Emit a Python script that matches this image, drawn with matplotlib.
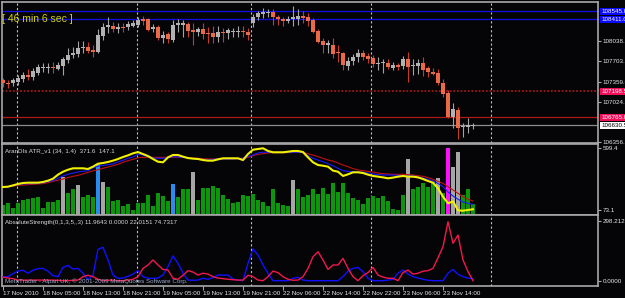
import numpy as np
import matplotlib.pyplot as plt

# eje de tiempo (indice de barra H1 y texto)
date_pos = [0, 8, 16, 24, 32, 40, 48, 56, 64, 72, 80, 88]
date_labels = ['17 Nov 2010', '18 Nov 05:00', '18 Nov 13:00', '18 Nov 21:00',
               '19 Nov 05:00', '19 Nov 13:00', '19 Nov 21:00', '22 Nov 06:00',
               '22 Nov 14:00', '22 Nov 22:00', '23 Nov 06:00', '23 Nov 14:00']
day_breaks = [2.8, 26.8, 49.6, 73.6, 97.6]

# velas
open_ = [107391, 107341, 107341, 107357, 107408, 107475, 107441, 107509, 107593, 107593,
         107609, 107576, 107626, 107727, 107811, 107828, 107929, 107945, 107895, 107861,
         108130, 108281, 108298, 108248, 108281, 108281, 108298, 108315, 108416, 108416,
         108248, 108281, 108097, 108164, 108063, 108315, 108315, 108332, 108231, 108197,
         108248, 108181, 108181, 108113, 108197, 108181, 108197, 108197, 108214, 108197,
         108349, 108449, 108500, 108517, 108533, 108449, 108416, 108382, 108416, 108416,
         108466, 108449, 108399, 108214, 108046, 107979, 107979, 107861, 107845, 107626,
         107710, 107777, 107845, 107794, 107761, 107660, 107677, 107677, 107593, 107643,
         107626, 107744, 107626, 107626, 107677, 107593, 107525, 107509, 107341, 107173,
         106769, 106887, 106601, 106601, 106618]
close = [107341, 107324, 107391, 107425, 107475, 107441, 107542, 107609, 107609, 107609,
         107593, 107643, 107744, 107811, 107845, 107929, 107945, 107878, 107861, 108147,
         108281, 108315, 108248, 108281, 108265, 108332, 108349, 108399, 108382, 108231,
         108281, 108097, 108147, 108080, 108315, 108349, 108349, 108214, 108197, 108248,
         108164, 108164, 108113, 108197, 108181, 108231, 108214, 108214, 108197, 108147,
         108449, 108517, 108533, 108533, 108449, 108416, 108382, 108416, 108449, 108466,
         108433, 108382, 108197, 108029, 107979, 108013, 107828, 107845, 107643, 107710,
         107777, 107845, 107777, 107744, 107660, 107677, 107693, 107609, 107643, 107609,
         107744, 107609, 107643, 107677, 107559, 107525, 107492, 107341, 107156, 106769,
         106904, 106585, 106618, 106635, 106635]
high = [107425, 107391, 107425, 107475, 107525, 107576, 107593, 107660, 107677, 107677,
        107693, 107693, 107777, 107929, 107945, 108046, 108046, 108029, 107979, 108248,
        108349, 108449, 108365, 108349, 108349, 108382, 108399, 108449, 108466, 108433,
        108332, 108315, 108214, 108197, 108399, 108416, 108399, 108365, 108349, 108281,
        108349, 108281, 108298, 108298, 108265, 108265, 108265, 108298, 108298, 108265,
        108500, 108550, 108601, 108584, 108584, 108483, 108449, 108466, 108634, 108584,
        108550, 108517, 108433, 108248, 108097, 108063, 108097, 107979, 107861, 107777,
        107828, 107912, 107895, 107845, 107811, 107777, 107744, 107744, 107693, 107677,
        107794, 107861, 107744, 107744, 107777, 107626, 107593, 107576, 107408, 107223,
        107005, 106937, 106669, 106753, 106669]
low = [107273, 107257, 107290, 107307, 107357, 107391, 107391, 107475, 107525, 107509,
       107509, 107559, 107475, 107677, 107761, 107777, 107845, 107845, 107777, 107845,
       108063, 108181, 108197, 108181, 108197, 108231, 108281, 108281, 108315, 108214,
       108197, 108063, 108013, 108013, 108029, 108197, 108113, 108113, 107979, 108130,
       108080, 108013, 108013, 108029, 108029, 108080, 108113, 108113, 108113, 108063,
       108281, 108399, 108433, 108449, 108315, 108315, 108298, 108349, 108298, 108315,
       108349, 108298, 108181, 108013, 107845, 107845, 107761, 107693, 107559, 107559,
       107643, 107693, 107727, 107677, 107609, 107559, 107509, 107576, 107559, 107559,
       107576, 107357, 107475, 107492, 107458, 107441, 107475, 107307, 107105, 106753,
       106585, 106400, 106433, 106501, 106568]

# niveles horizontales del grafico principal
blue_levels = [108545.0, 108411.0]
red_dotted_level = 107198.5
red_level = 106765.0
bid_level = 106630.5
price_ticks = [108038.0, 107703.7, 107359.0, 107024.8, 106356.3]

# AranDIs ATR_v1
atr_hist = [115, 130, 93, 130, 158, 164, 177, 181, 87, 138,
            143, 158, 356, 215, 249, 285, 181, 200, 181, 464,
            313, 271, 152, 158, 107, 121, 73, 130, 130, 200,
            107, 220, 192, 152, 294, 181, 249, 249, 393, 158,
            257, 262, 279, 257, 200, 164, 135, 143, 200, 192,
            209, 158, 143, 110, 249, 135, 115, 110, 328, 249,
            181, 200, 249, 209, 257, 209, 305, 228, 300, 215,
            177, 158, 121, 172, 192, 172, 192, 152, 82, 73,
            200, 503, 249, 271, 300, 271, 313, 342, 215, 597,
            441, 568, 200, 249, 121]
gray_bars = [12, 15, 20, 38, 58, 81, 87, 90, 91]
blue_bars = [19, 34]
magenta_bars = [89]
atr_yellow = [268, 271, 282, 294, 302, 305, 305, 305, 311, 322,
              339, 373, 398, 415, 427, 427, 427, 421, 441, 466,
              472, 481, 492, 506, 523, 537, 554, 565, 548, 531,
              506, 483, 478, 520, 540, 540, 526, 514, 509, 506,
              497, 492, 492, 503, 512, 512, 512, 512, 497, 548,
              585, 591, 597, 574, 563, 563, 563, 568, 574, 574,
              565, 520, 478, 455, 449, 441, 407, 398, 362, 376,
              393, 393, 387, 373, 362, 356, 350, 342, 348, 356,
              362, 356, 356, 350, 336, 319, 305, 257, 186, 130,
              146, 70, 67, 73, 79]
atr_blue = [265, 271, 280, 288, 294, 297, 297, 299, 305, 314,
            322, 342, 362, 376, 387, 396, 401, 407, 432, 444,
            452, 458, 464, 481, 495, 512, 523, 546, 540, 526,
            514, 512, 512, 517, 526, 523, 520, 514, 509, 506,
            503, 497, 503, 506, 506, 506, 506, 509, 512, 526,
            540, 557, 563, 563, 563, 563, 563, 563, 563, 563,
            560, 534, 512, 497, 483, 466, 449, 427, 407, 401,
            398, 396, 393, 387, 379, 373, 370, 370, 370, 367,
            364, 362, 362, 353, 345, 333, 319, 299, 271, 226,
            192, 164, 141, 130, 121]
atr_red = [265, 271, 277, 282, 285, 288, 291, 294, 297, 305,
           316, 325, 336, 348, 359, 367, 379, 393, 404, 415,
           427, 438, 449, 461, 478, 492, 503, 517, 520, 520,
           520, 520, 520, 520, 520, 520, 520, 517, 514, 512,
           509, 506, 506, 506, 506, 506, 506, 509, 512, 520,
           534, 546, 551, 557, 560, 560, 560, 560, 563, 563,
           560, 551, 540, 526, 512, 497, 489, 472, 455, 441,
           424, 413, 407, 401, 396, 387, 381, 379, 376, 376,
           376, 373, 370, 364, 359, 348, 333, 316, 299, 271,
           243, 215, 186, 164, 149]

# AbsoluteStrength
bulls = [18, 20, 35, 48, 52, 37, 52, 60, 61, 47,
         25, 20, 66, 76, 58, 61, 38, 5, 27, 156,
         166, 103, 28, 12, 13, 22, 32, 50, 20, 12,
         12, 13, 28, 70, 123, 86, 37, 3, 2, 3,
         12, 7, 15, 28, 28, 28, 8, 3, 0, 86,
         158, 128, 78, 37, 0, 0, 0, 0, 12, 17,
         3, 0, 0, 0, 0, 0, 0, 0, 20, 48,
         61, 66, 45, 12, 0, 0, 0, 3, 7, 37,
         53, 33, 20, 13, 7, 2, 0, 0, 0, 37,
         56, 32, 20, 13, 10]
bears = [18, 13, 10, 3, 3, 3, 3, 3, 3, 3,
         3, 2, 0, 0, 2, 3, 20, 27, 20, 7,
         0, 2, 3, 0, 0, 3, 7, 20, 61, 78,
         103, 78, 56, 53, 12, 7, 27, 50, 43, 28,
         37, 33, 20, 13, 10, 7, 5, 3, 3, 27,
         20, 3, 0, 20, 48, 40, 20, 7, 2, 3,
         20, 61, 119, 144, 103, 56, 78, 78, 111, 61,
         20, 0, 25, 40, 66, 28, 18, 12, 12, 0,
         40, 53, 33, 37, 47, 50, 61, 114, 169, 293,
         186, 227, 103, 45, 0]

W, H = 625.0, 298.0
BG = '#050508'
FRAME = '#a8a8a8'
TXT = '#e6e6e6'
SMALL = ['Liberation Sans', 'DejaVu Sans']
FS = 4.5


def panel(fig, top, bottom):
    ax = fig.add_axes([2 / W, 1 - bottom / H, 596 / W, (bottom - top) / H])
    ax.set_facecolor(BG)
    for s in ax.spines.values():
        s.set_color(FRAME)
        s.set_linewidth(1.2)
    ax.set_xlim(-0.2, 119)
    ax.yaxis.tick_right()
    ax.tick_params(axis='y', colors=FRAME, labelcolor=TXT, labelsize=FS, length=2, pad=1.5)
    ax.set_xticks([])
    for x in day_breaks:
        ax.axvline(x, color='#bdbdbd', lw=0.8, ls=(0, (2, 2)), zorder=1)
    return ax


def candles(ax):
    x = np.arange(len(open_))
    o, c = np.array(open_), np.array(close)
    up = c >= o
    ax.vlines(x, low, high, colors=np.where(up, '#a4a4a4', '#c83a28'), lw=0.8, zorder=2)
    body_h = np.maximum(np.abs(c - o), 17)
    ax.bar(x, body_h, bottom=np.minimum(o, c), width=0.62,
           color=np.where(up, '#b2b2b2', '#ea6a48'), edgecolor='none', zorder=3)


def level_label(ax, y, text, fc, tc):
    ax.text(1.005, y, text, transform=ax.get_yaxis_transform(), ha='left', va='center',
            fontsize=FS, color=tc, family=SMALL, clip_on=False, zorder=6,
            bbox=dict(boxstyle='square,pad=0.15', fc=fc, ec='none'))


fig = plt.figure(figsize=(6.25, 2.98), dpi=100, facecolor=BG)

# panel principal
ax1 = panel(fig, 2, 143.5)
ax1.set_ylim(106324, 108701)
for lv in blue_levels:
    ax1.axhline(lv, color='#1010e0', lw=0.9, zorder=1)
ax1.axhline(red_dotted_level, color='#a01818', lw=1.3, ls=(0, (1, 1)), zorder=1)
ax1.axhline(red_level, color='#b01818', lw=0.9, zorder=1)
ax1.axhline(bid_level, color='#8c8c8c', lw=0.9, zorder=1)
candles(ax1)
ax1.set_yticks(price_ticks)
ax1.set_yticklabels(['%.1f' % p for p in price_ticks], family=SMALL)
for lv in blue_levels:
    level_label(ax1, lv, '%.1f' % lv, '#0a0aff', 'white')
level_label(ax1, red_dotted_level, '%.1f' % red_dotted_level, '#f0105a', 'white')
level_label(ax1, red_level, '%.1f' % red_level, '#f0105a', 'white')
level_label(ax1, bid_level, '%.1f' % bid_level, 'white', 'black')
fig.text(2 / W, 1 - 18.5 / H, '[ 46 min 6 sec ]', color='#d4d400', fontsize=7.5,
         family=SMALL, va='center')

# panel ATR
ax2 = panel(fig, 143.5, 215)
ax2.set_ylim(30.5, 637.6)
x = np.arange(len(atr_hist))
cols = ['#0b960b'] * len(atr_hist)
for i in gray_bars:
    cols[i] = '#a6a6a6'
for i in blue_bars:
    cols[i] = '#2a8cf0'
for i in magenta_bars:
    cols[i] = '#ff10ff'
ax2.bar(x, atr_hist, width=0.78, color=cols, edgecolor='none', zorder=2)
ax2.plot(x, atr_red, color='#c01010', lw=0.8, zorder=3)
ax2.plot(x, atr_blue, color='#1a1aff', lw=0.8, zorder=4)
ax2.plot(x, atr_yellow, color='#f0f000', lw=1.5, zorder=5)
ax2.set_yticks([599.4, 73.1])
ax2.set_yticklabels(['599.4', '73.1'], family=SMALL)
fig.text(5 / W, 1 - 151 / H, 'AranDIs ATR_v1 (34, 1.4)  371.6  147.1', color='#d8d8d8',
         fontsize=FS, family=SMALL, va='center')

# panel AbsoluteStrength
ax3 = panel(fig, 215, 285.5)
ax3.set_ylim(-23.9, 326.5)
ax3.plot(x, bulls, color='#1010ff', lw=1.0, zorder=3)
ax3.plot(x, bears, color='#f0184c', lw=1.0, zorder=4)
ax3.set_yticks([298.2125, 0.0])
ax3.set_yticklabels(['298.2125', '0.0000'], family=SMALL)
ax3.set_xticks(date_pos)
ax3.set_xticklabels(date_labels, family=SMALL)
ax3.tick_params(axis='x', colors=FRAME, labelcolor=TXT, labelsize=FS, length=3, pad=0.8)
for t in ax3.get_xticklabels():
    t.set_ha('left')
fig.text(5 / W, 1 - 222.7 / H, 'AbsoluteStrength(0,1,3,5,,3) 11.9643 0.0000 22.0151 74.7317',
         color='#d8d8d8', fontsize=FS, family=SMALL, va='center')
fig.text(5 / W, 1 - 281 / H,
         'MetaTrader - Alpari UK, \u00a9 2001-2009 MetaQuotes Software Corp.',
         color='#9aa8c4', fontsize=FS, family=SMALL, va='center')

fig.savefig('out.png', dpi=100, facecolor=BG)
